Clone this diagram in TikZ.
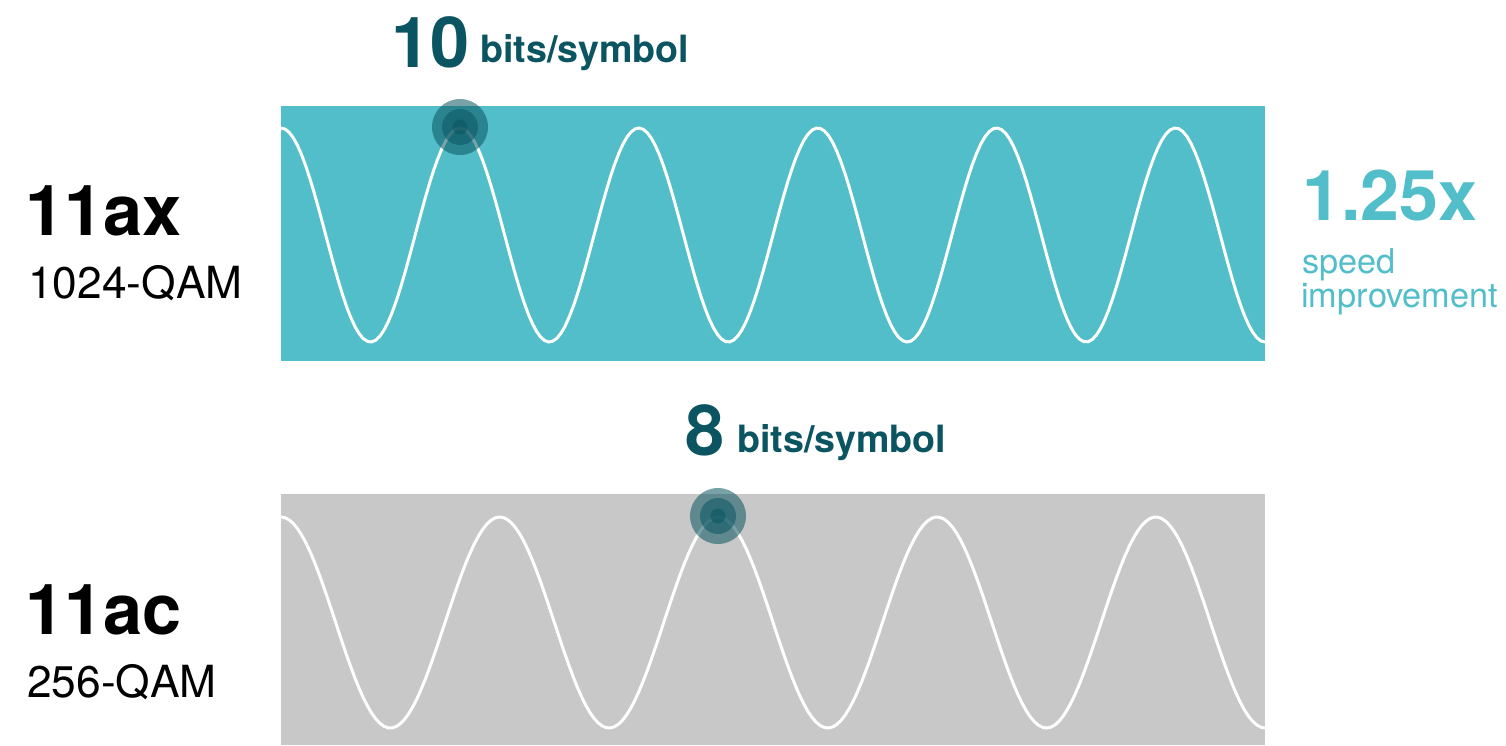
\documentclass[tikz,border=0pt]{standalone}
\usepackage{fontspec}
\setmainfont{TeX Gyre Heros}
\usepackage{xcolor}
\usetikzlibrary{positioning}

\definecolor{wavecyan}{HTML}{52BECA}
\definecolor{deepteal}{HTML}{0A5561}
\definecolor{bandgray}{HTML}{C8C8C8}

\begin{document}
\begin{tikzpicture}[x=0.02cm, y=-0.02cm,
        every node/.style={anchor=base west, inner sep=0pt},
        wave/.style={white, line width=1.7pt},
        ring/.style={fill=deepteal, fill opacity=0.55},
        bigtag/.style={font=\fontsize{40}{42}\selectfont\bfseries},
        subtag/.style={font=\fontsize{25.2}{28}\selectfont},
        bignum/.style={text=deepteal, font=\fontsize{40}{42}\selectfont\bfseries},
        unit/.style={text=deepteal, font=\fontsize{21.4}{24}\selectfont\bfseries},
        gain/.style={text=wavecyan, font=\fontsize{39.8}{42}\selectfont\bfseries},
        gainnote/.style={text=wavecyan, font=\fontsize{19.5}{20}\selectfont}]

    \useasboundingbox (0,0) rectangle (1506,745);

    % 11ax band
    \fill[wavecyan] (281,106) rectangle (1265,361);
    \draw[wave] plot[domain=281:1265, samples=240] (\x, {235 - 107*cos((\x-281)/178.9*360)});

    % 11ac band
    \fill[bandgray] (281,494) rectangle (1265,745);
    \draw[wave] plot[domain=281:1265, samples=240] (\x, {622.5 - 105.5*cos((\x-281)/218.7*360)});

    % symbol markers
    \foreach \cx/\cy in {460/127, 718/516} {
        \fill[ring] (\cx,\cy) circle[radius=28];
        \fill[ring] (\cx,\cy) circle[radius=18];
        \fill[ring] (\cx,\cy) circle[radius=7.5];
    }

    % labels
    \node[bigtag] (axname) at (25,235) {11ax};
    \node[subtag] (axqam) at (28,298) {1024-QAM};
    \node[bigtag] (acname) at (25,634) {11ac};
    \node[subtag] (acqam) at (27,697) {256-QAM};

    \node[bignum] (axbits) at (391,67) {10};
    \node[unit] (axunit) at (480,62) {bits/symbol};
    \node[bignum] (acbits) at (685,455) {8};
    \node[unit] (acunit) at (737,452) {bits/symbol};

    \node[gain] (speedup) at (1302,220) {1.25x};
    \node[gainnote] (speed) at (1302,273) {speed};
    \node[gainnote] (improve) at (1301,307) {improvement};
\end{tikzpicture}
\end{document}
